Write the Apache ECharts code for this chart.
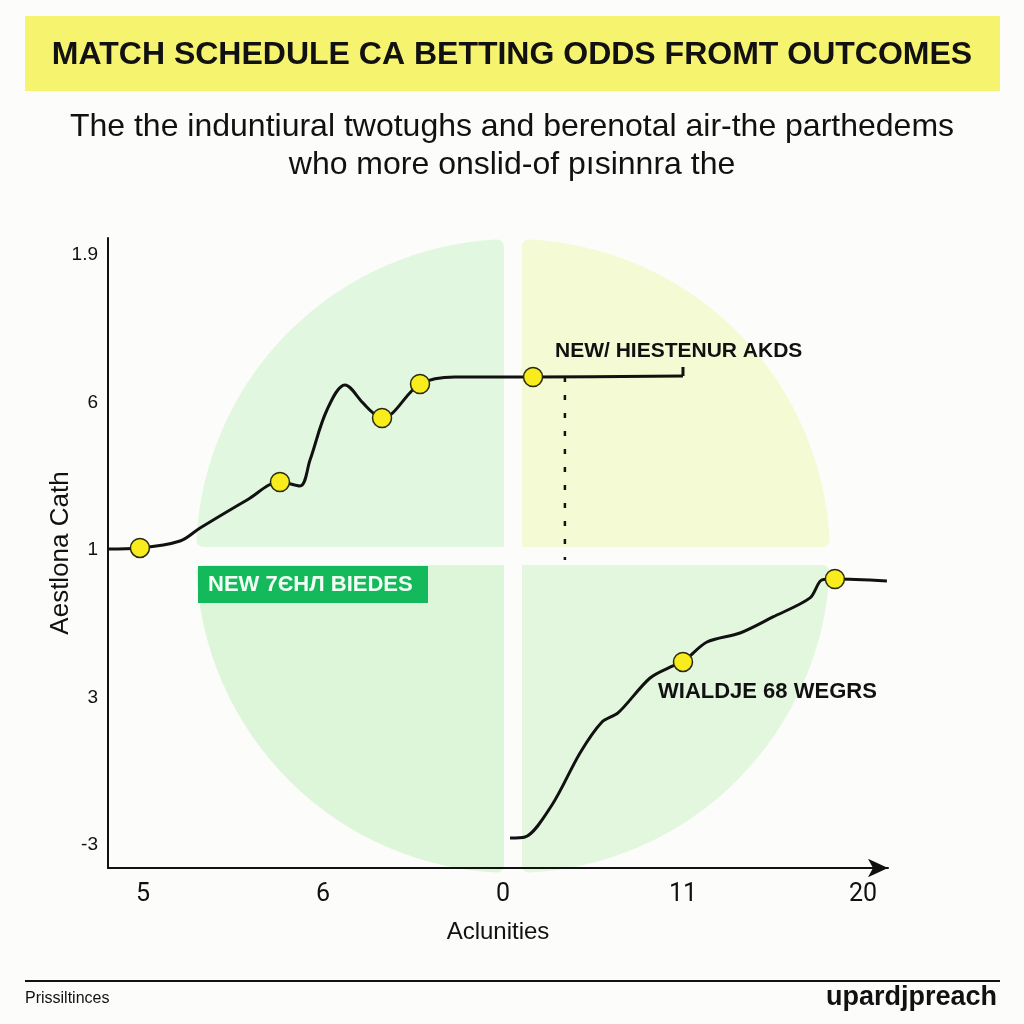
<!DOCTYPE html>
<html>
<head>
<meta charset="utf-8">
<script src="https://cdn.jsdelivr.net/npm/echarts@6/dist/echarts.min.js"></script>
<style>
html,body{margin:0;padding:0;background:#fcfcfb;}
#chart{width:1024px;height:1024px;}
</style>
</head>
<body>
<div id="chart"></div>
<script>
// ---- data ----
var xTickLabels = ['5', '6', '0', '11', '20'];
var yTickLabels = ['-3', '3', '1', '6', '1.9'];

var line1X = [-0.194, -0.017, 0.206, 0.317, 0.578, 0.761, 0.872, 0.928, 1.022, 1.122, 1.222, 1.278, 1.328, 1.539, 1.733, 2.167, 3.0];
var line1Y = [2.007, 2.014, 2.061, 2.149, 2.339, 2.461, 2.434, 2.610, 2.949, 3.119, 2.997, 2.929, 2.895, 3.125, 3.173, 3.173, 3.180];
var line1Marked = [0, 1, 0, 0, 0, 1, 0, 0, 0, 0, 0, 0, 1, 1, 0, 1, 0];

var bracketX = [3.0, 3.0];
var bracketY = [3.180, 3.241];

var line2X = [2.039, 2.122, 2.272, 2.428, 2.55, 2.639, 2.817, 2.944, 3.0, 3.133, 3.317, 3.5, 3.706, 3.772, 3.844, 4.133];
var line2Y = [0.047, 0.054, 0.271, 0.624, 0.834, 0.895, 1.132, 1.214, 1.241, 1.376, 1.437, 1.546, 1.675, 1.797, 1.803, 1.790];
var line2Marked = [0, 0, 0, 0, 0, 0, 0, 0, 1, 0, 0, 0, 0, 0, 1, 0];

var dashX = [2.344, 2.344];
var dashY = [3.173, 1.932];

var quadrantNames = ['top-right', 'bottom-right', 'bottom-left', 'top-left'];
var quadrantValues = [1, 1, 1, 1];
var quadrantColors = ['#f4fad3', '#e2f7de', '#ddf5d8', '#e2f7df'];

// ---- build ----
function buildLine(xs, ys, marks) {
  return xs.map(function (x, i) {
    var d = { value: [x, ys[i]] };
    if (marks && marks[i]) {
      d.symbol = 'circle';
      d.symbolSize = 19;
    } else {
      d.symbol = 'none';
    }
    return d;
  });
}
function pairs(xs, ys) { return xs.map(function (x, i) { return [x, ys[i]]; }); }

var chart = echarts.init(document.getElementById('chart'));
var markerStyle = { color: '#f8ec1c', borderColor: '#2a2a10', borderWidth: 1.5 };

var option = {
  backgroundColor: '#fcfcfb',
  animation: false,
  grid: { left: 108, top: 238, right: 136, bottom: 156 },
  xAxis: {
    type: 'value', min: -0.1944, max: 4.139, z: 6,
    splitLine: { show: false },
    axisTick: { show: false },
    axisLine: { show: true, onZero: false, symbol: ['none', 'arrow'], symbolSize: [14, 20], lineStyle: { color: '#111', width: 2 } },
    axisLabel: {
      customValues: [0, 1, 2, 3, 4],
      formatter: function (v) { return xTickLabels[Math.round(v)]; },
      margin: 14, color: '#111', fontSize: 25, fontFamily: 'Liberation Sans Narrow, Roboto, sans-serif'
    },
    name: 'Aclunities', nameLocation: 'middle', nameGap: 52,
    nameTextStyle: { color: '#111', fontSize: 24, fontFamily: 'Liberation Sans Narrow, sans-serif' }
  },
  yAxis: {
    type: 'value', min: -0.156, max: 4.115, z: 6,
    splitLine: { show: false },
    axisTick: { show: false },
    axisLine: { show: true, onZero: false, lineStyle: { color: '#111', width: 2 } },
    axisLabel: {
      customValues: [0, 1, 2, 3, 4],
      formatter: function (v) { return yTickLabels[Math.round(v)]; },
      margin: 10, color: '#111', fontSize: 19, fontFamily: 'Liberation Sans, Arial, sans-serif'
    },
    name: 'Aestlona Cath', nameLocation: 'middle', nameGap: 34, nameMoveOverlap: false,
    nameTextStyle: { color: '#111', fontSize: 26, fontFamily: 'Liberation Sans, Arial, sans-serif' }
  },
  series: [
    {
      type: 'pie', z: 1, silent: true,
      center: [513, 556], radius: [0, 326],
      startAngle: 90, clockwise: true,
      label: { show: false }, labelLine: { show: false },
      itemStyle: { borderColor: '#fcfcfb', borderWidth: 18, borderRadius: 16 },
      data: quadrantValues.map(function (v, i) {
        return { name: quadrantNames[i], value: v, itemStyle: { color: quadrantColors[i] } };
      })
    },
    {
      type: 'line', z: 3, smooth: 0.35, showSymbol: true,
      lineStyle: { color: '#111', width: 3 },
      itemStyle: markerStyle,
      data: buildLine(line1X, line1Y, line1Marked)
    },
    {
      type: 'line', z: 3, smooth: false, symbol: 'none',
      lineStyle: { color: '#111', width: 3 },
      data: pairs(bracketX, bracketY)
    },
    {
      type: 'line', z: 3, smooth: 0.3, showSymbol: true,
      lineStyle: { color: '#111', width: 3 },
      itemStyle: markerStyle,
      data: buildLine(line2X, line2Y, line2Marked)
    },
    {
      type: 'line', z: 3, symbol: 'none',
      lineStyle: { color: '#111', width: 2.5, type: [5, 13] },
      data: pairs(dashX, dashY)
    }
  ],
  graphic: [
    { type: 'rect', shape: { x: 25, y: 16, width: 975, height: 75 }, style: { fill: '#f6f46f' }, z: 10 },
    { type: 'text', x: 512, y: 55, z: 11, style: { text: 'MATCH SCHEDULE CA BETTING ODDS FROMT OUTCOMES', align: 'center', verticalAlign: 'middle', fill: '#111', font: 'bold 32px "Liberation Sans Narrow", sans-serif' } },
    { type: 'text', x: 512, y: 127, z: 11, style: { text: 'The the induntiural twotughs and berenotal air-the parthedems', align: 'center', verticalAlign: 'middle', fill: '#111', font: '32px "Liberation Sans Narrow", sans-serif' } },
    { type: 'text', x: 512, y: 165, z: 11, style: { text: 'who more onslid-of pısinnra the', align: 'center', verticalAlign: 'middle', fill: '#111', font: '32px "Liberation Sans Narrow", sans-serif' } },
    { type: 'text', x: 555, y: 351, z: 11, style: { text: 'NEW/ HIESTENUR AKDS', align: 'left', verticalAlign: 'middle', fill: '#111', font: 'bold 21px "Liberation Sans", sans-serif' } },
    { type: 'rect', shape: { x: 198, y: 566, width: 230, height: 37 }, style: { fill: '#13b95b' }, z: 10 },
    { type: 'text', x: 208, y: 585, z: 11, style: { text: 'NEW 7ЄНЛ BIEDES', align: 'left', verticalAlign: 'middle', fill: '#f2fff4', font: 'bold 22px "Liberation Sans", sans-serif' } },
    { type: 'text', x: 658, y: 692, z: 11, style: { text: 'WIALDЈE 68 WEGRS', align: 'left', verticalAlign: 'middle', fill: '#111', font: 'bold 22px "Liberation Sans", sans-serif' } },
    { type: 'rect', shape: { x: 25, y: 980, width: 975, height: 2 }, style: { fill: '#111' }, z: 10 },
    { type: 'text', x: 25, y: 999, z: 11, style: { text: 'Prissiltinces', align: 'left', verticalAlign: 'middle', fill: '#111', font: '16px "Liberation Sans", sans-serif' } },
    { type: 'text', x: 997, y: 998, z: 11, style: { text: 'upardjpreach', align: 'right', verticalAlign: 'middle', fill: '#111', font: 'bold 27px "Liberation Sans Narrow", sans-serif' } }
  ]
};
chart.setOption(option);
</script>
</body>
</html>
